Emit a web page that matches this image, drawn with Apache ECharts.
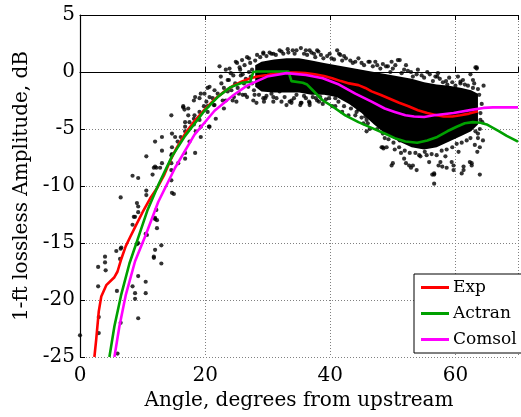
<!DOCTYPE html>
<html><head><meta charset="utf-8">
<script src="https://cdn.jsdelivr.net/npm/echarts@6/dist/echarts.min.js"></script>
<style>html,body{margin:0;padding:0;background:#fff}#c{width:521px;height:417px}</style>
</head><body><div id="c"></div>
<script>
// ---- data ----
const seriesNames = ['Exp', 'Actran', 'Comsol'];
const seriesColors = ['#ff0000', '#00a000', '#ff00ff'];

const expLine = [[2.3,-25],[2.6,-23.4],[3.0,-21.0],[3.4,-19.7],[4.2,-18.7],[5.5,-18.0],[6.0,-17.5],[6.6,-16.4],[7.3,-15.3],[8.0,-14.5],[8.9,-13.5],[10.0,-12.3],[11.2,-11.1],[12.3,-10.2],[13.4,-9.1],[14.4,-7.8],[15.4,-6.7],[16.8,-5.4],[18.3,-4.3],[19.9,-3.3],[21.5,-2.4],[23.1,-1.7],[24.5,-1.2],[25.8,-0.85],[27.0,-0.6],[28.3,-0.4],[29.9,-0.26],[31.5,-0.1],[33,-0.05],[34.5,-0.05],[36,-0.1],[37.5,-0.2],[39,-0.35],[40.3,-0.55],[41.7,-0.8],[43,-1.0],[44.5,-1.15],[45.6,-1.4],[46.6,-1.7],[48,-2.0],[49.5,-2.35],[51,-2.7],[52.5,-3.0],[54,-3.35],[55.5,-3.6],[57,-3.8],[58.1,-3.9],[59.5,-3.9],[60.8,-3.8],[62.2,-3.65],[63.6,-3.45]];

const actranLine = [[4.7,-25],[5.5,-22.3],[6.6,-19.5],[7.9,-16.8],[9.2,-14.7],[10.8,-12.1],[12.6,-9.8],[14.7,-7.4],[16.8,-5.6],[19.9,-3.4],[22,-2.2],[24,-1.35],[25.9,-0.95],[27.2,-0.85],[27.7,0.0],[28.3,0.05],[33.3,0.05],[33.8,-0.8],[35.6,-0.95],[36.3,-1.1],[37.2,-1.6],[38.8,-2.5],[40.3,-3.0],[42.4,-3.8],[44.5,-4.4],[46.6,-4.9],[48.7,-5.4],[50.3,-5.8],[52,-6.1],[53.9,-6.2],[55.5,-6.0],[57.1,-5.7],[58.7,-5.2],[60.2,-4.8],[61.5,-4.5],[62.8,-4.4],[64,-4.45],[65,-4.6],[66,-4.9],[67,-5.2],[68.2,-5.6],[70,-6.1]];

const comsolLine = [[5.5,-25],[6.3,-22.3],[7.3,-19.6],[8.8,-16.6],[10.5,-14.3],[12.5,-11.4],[15.2,-8.4],[18.3,-5.5],[21.5,-3.4],[24.6,-2.0],[26.7,-1.2],[28.3,-0.8],[29.9,-0.4],[33,-0.1],[36.1,-0.26],[38.8,-0.55],[41.4,-1.1],[44,-1.9],[46.6,-2.6],[48.7,-3.2],[50.3,-3.5],[52,-3.8],[53.4,-3.9],[55,-3.95],[56.6,-3.8],[59.7,-3.6],[62.8,-3.3],[64.5,-3.15],[66,-3.1],[70,-3.1]];

// dense core of the measured cloud (upper / lower edges)
const coreAngle = [28,29,31,33,35,37,39,41,43,45,47,49,51,53,55,57,59,61,62.5,63.6];
const coreUpper = [0.6,0.9,1.1,1.2,1.2,1.0,0.8,0.6,0.4,0.2,0.0,-0.2,-0.4,-0.6,-0.9,-1.1,-1.2,-1.4,-1.6,-1.9];
const coreLower = [-1.3,-1.7,-1.8,-1.8,-1.8,-2.0,-2.0,-2.2,-2.8,-3.6,-4.6,-5.5,-6.1,-6.6,-6.8,-6.6,-6.1,-5.6,-5.2,-4.6];

// individual measured points outside the dense core
const expDots = [
[0,-23.1],[2.9,-17.1],[2.9,-18.8],[3.0,-22.9],[3.0,-21.5],[4.0,-16.2],[4.0,-16.7],[4.1,-17.4],[5.8,-15.7],[6.5,-15.5],[6.4,-16.4],[5.9,-19.2],[6.5,-22.0],[6.0,-24.7],[8.4,-13.4],[8.8,-12.7],[8.4,-18.8],[8.8,-19.4],[8.8,-19.9],[9.3,-21.6],[9.3,-17.9],[9.1,-15.1],[9.1,-11.5],[10.5,-14.2],[10.5,-18.4],[10.5,-19.4],[11.8,-16.2],[12.0,-15.6],[12.2,-12.1],[12.3,-13.7],[13.0,-15.2],[13.0,-16.8],[12.0,-12.9],
[10.6,-7.4],[8.4,-9.1],[9.3,-9.3],[6.5,-11.0],[11.6,-9.0],[12.2,-8.4],[10.6,-10.4],[10.6,-10.8],[9.3,-11.8],[9.3,-12.3],[8.6,-12.7],[10.7,-14.3],[9.3,-15.0],[6.6,-15.4],[11.8,-16.3],
[14.6,-7.3],[14.6,-8.0],[14.6,-8.6],[12.8,-8.4],[14.6,-9.5],[14.7,-10.6],[15.0,-10.7],[12.3,-13.0],[12.0,-12.8],
[11.8,-8.4],[12.0,-6.1],[13.1,-5.7],[13.1,-6.9],[13.1,-8.0],[14.7,-5.4],[14.7,-6.6],[14.7,-7.2],[14.6,-3.8],[15.2,-5.7],[15.6,-6.1],[15.7,-8.0],[16.1,-5.7],[16.5,-3.0],[16.8,-7.1],[16.8,-7.6],[16.8,-4.4],[16.8,-4.8],[16.8,-5.2],[17.5,-4.4],[17.5,-6.1],[17.3,-3.8],[18.2,-4.1],[18.2,-4.6],[18.4,-7.1],[18.2,-2.5],[18.4,-2.2],[19.1,-3.5],[19.1,-4.2],[19.3,-4.8],[19.3,-5.7],[19.9,-1.9],[20.2,-2.6],[20.4,-3.0],[20.6,-4.8],[20.4,-1.4],[21.4,-2.9],[21.7,-4.1],[21.5,-1.6],[22.3,0.5],[22.5,-0.4],[22.6,-1.0],[22.8,-2.5],[23.0,-1.4],[22.0,-1.9],[20.7,-2.2],[18.5,-5.2],[16.7,-3.3],
[12.0,-8.3],[16.5,-3.1],[17.3,-3.2],[19.3,-1.9],[19.1,-2.3],[20.7,-1.3],[21.2,-2.3],[20.7,-4.8],[23.3,0.2],[24.1,-0.1],[23.8,-0.7],[23.6,-1.7],[24.4,-2.5],[25.1,0.8],[25.6,0.2],[25.7,-0.3],[26.0,-2.0],[26.2,-1.0],[27.0,1.2],[27.2,0.8],[27.5,0.2],[27.8,-1.6],[26.7,-2.2],[21.5,-2.9],[19.8,-3.0],[20.4,-3.5],[18.3,-3.8],
[24.9,0.9],[25.9,1.05],[26.7,1.3],[28.3,1.5],[29.3,1.6],[30.6,1.6],[31.9,1.9],[33.3,1.7],[34.6,1.9],[36.1,1.9],[37.4,1.6],[23.6,-0.7],[23.3,-2.5],[23.0,-3.2],[24.6,-2.2],[25.4,-1.9],[26.4,-2.0],[27.7,-2.5],[29.6,-2.3],[29.4,-2.6],[32.2,-2.6],[33.0,-2.9],[33.8,-2.5],[34.6,-2.0],[35.4,-2.7],[36.1,-2.3],[31.9,-1.7],[30.6,-1.9],[37.4,-1.7],[36.7,-2.9],
[24.5,-0.3],[24.8,-1.0],[25.2,-1.4],[25.5,0.4],[26.0,-0.2],[26.3,0.6],[26.5,-0.6],[26.9,-1.3],[27.0,0.0],[27.3,-0.4],[27.5,-1.0],[23.9,0.3],[24.2,-1.6],[25.0,-2.6],[27.9,-2.0],[28.2,-2.7],
[29.3,-2.3],[30.9,-2.6],[33.5,-2.6],[36.6,-2.6],[35.2,-2.9],
[29.3,1.7],[30.9,1.6],[32.2,1.8],[34.0,1.9],[35.3,2.1],[36.7,1.9],[37.9,1.9],[41.1,1.9],[41.4,1.6],[44.0,0.9],[46.3,0.9],[50.8,1.05],[49.2,0.5],[52.9,0.0],[56.8,-0.4],[55.5,0.0],[60.8,-0.85],[62.8,-0.7],[63.2,0.4],
[41.6,1.5],[46.1,0.9],[49.8,0.9],[51.1,1.05],[52.1,0.6],
[38.5,1.5],[39.5,1.4],[40.2,1.2],[42.5,1.2],[43.2,1.0],[45.0,0.8],[47.5,0.6],[48.4,0.7],[50.0,0.3],[51.8,0.2],[53.8,-0.2],[54.6,-0.3],[57.5,-0.6],[58.5,-0.8],[59.5,-0.9],[61.5,-1.1],
[63.4,0.3],[57.1,-0.4],[60.8,-1.0],[62.8,-1.4],[61.3,-1.7],[58.7,-1.1],[57.9,-1.7],
[30.9,-2.2],[33.8,-2.7],[35.3,-2.7],[36.7,-2.7],[37.9,-2.5],[40.8,-3.0],[45.8,-5.2],[48.4,-6.6],[49.8,-8.2],[52.1,-8.0],[52.9,-8.4],[56.6,-9.0],[56.6,-9.8],[57.3,-8.2],[58.6,-8.4],[59.7,-8.2],[61.3,-8.6],[62.6,-8.0],[63.9,-9.0],[63.9,-6.6],[63.6,-5.4],[63.1,-3.8],[45.8,-4.2],
[40.8,-2.3],[40.3,-3.0],[41.9,-3.5],[42.9,-3.8],[44.0,-3.8],[44.5,-3.3],[45.6,-3.9],[48.2,-4.4],[45.3,-4.5],[46.3,-5.0],[48.7,-5.8],[49.0,-6.6],[48.5,-6.7],[50.3,-6.8],[50.0,-8.0],[51.3,-7.1],[51.8,-7.6],[52.6,-8.2],[51.1,-6.0],[50.0,-5.4],[37.7,-2.3],[38.2,-2.6],[38.8,-2.8],[39.3,-2.4],
[54.2,-7.3],[53.2,-8.2],[53.8,-8.6],[56.6,-8.9],[57.6,-7.9],[57.9,-8.3],[58.4,-7.4],[59.4,-7.9],[59.7,-8.6],[61.3,-8.3],[61.0,-8.9],[62.3,-7.9],[62.6,-8.2],[63.1,-6.4],[63.6,-5.8],[60.5,-7.0],[55.8,-7.9],[55.1,-7.0],
[56.3,-9.0],[48.2,-6.6],[63.4,0.4],
[63.8,-2.0],[64.2,-2.8],[64.0,-3.6],[64.3,-4.4],[63.9,-5.0],[64.4,-6.0],[63.5,-7.0],[64.5,-1.2],
[28,1.0],[28.8,1.3],[29.8,1.4],[30.3,1.7],[31.3,1.5],[32.5,1.6],[33.2,2.0],[34.3,1.6],[35.8,1.6],[36.3,1.5],[37.0,1.7],[37.6,1.3],[38.1,1.8],[38.9,1.2],[39.9,1.6],[40.6,1.1],[41.9,1.0],[42.2,1.4],[43.6,0.8],[44.5,1.2],[45.4,0.6],[46.8,0.5],[47.2,0.9],[48.0,0.3],[48.9,0.5],[49.6,0.0],[50.4,0.6],[51.4,-0.1],[52.4,0.1],[53.2,-0.4],[54.0,0.2],[55.0,-0.5],[55.9,-0.2],[56.4,-0.8],[57.2,-0.1],[58.0,-0.9],[59.0,-0.5],[60.0,-1.2],[60.4,-0.4],[61.2,-0.7],[62.0,-1.2],[62.4,-0.2],[63.0,-1.0],[63.6,-1.5],
[28.6,-2.0],[29.8,-2.1],[31.4,-2.3],[32.7,-2.2],[34.2,-2.3],[35.8,-2.1],[37.2,-2.2],[38.4,-2.2],[39.8,-2.3],[41.3,-2.6],[42.2,-3.0],[43.3,-3.2],[44.2,-3.5],[45.0,-4.0],[46.0,-4.5],[46.8,-4.1],[47.5,-5.0],[48.4,-5.4],[49.3,-5.9],[50.1,-6.2],[51.0,-6.6],[51.9,-6.9],[52.7,-7.1],[53.6,-7.1],[54.4,-7.4],[55.4,-7.3],[56.2,-7.2],[57.0,-7.3],[57.8,-6.9],[58.6,-6.8],[59.5,-6.6],[60.2,-6.3],[61.0,-6.2],[61.8,-6.0],[62.4,-5.8],[63.2,-5.2],[64.0,-4.2]
];

const xTickValues = [0, 20, 40, 60];
const yTickValues = [-25, -20, -15, -10, -5, 0, 5];
const xTitle = 'Angle, degrees from upstream';
const yTitle = '1-ft lossless Amplitude, dB';

// ---- chart ----
const FONT = 'DejaVu Serif';
const chart = echarts.init(document.getElementById('c'), null, {renderer: 'canvas'});
const gridLine = {show: true, lineStyle: {color: '#808080', width: 1, type: [1, 2]}};
const lineSeries = [expLine, actranLine, comsolLine].map((d, i) => ({
  name: seriesNames[i], type: 'line', data: d, showSymbol: false, symbol: 'none',
  smooth: false, z: 5 + i, lineStyle: {color: seriesColors[i], width: 2.6, join: 'round'}, itemStyle: {color: seriesColors[i]},
  animation: false
}));

chart.setOption({
  animation: false,
  backgroundColor: '#fff',
  grid: {left: 80, top: 15, width: 446, height: 342, containLabel: false},
  xAxis: [{
    type: 'value', min: 0, max: 70, interval: 20,
    name: xTitle, nameLocation: 'middle', nameGap: 31,
    nameTextStyle: {fontFamily: FONT, fontSize: 20, color: '#000'},
    axisLine: {show: true, lineStyle: {color: '#000', width: 1.2}},
    axisTick: {show: true, inside: true, length: 5, lineStyle: {color: '#000'}},
    axisLabel: {fontFamily: FONT, fontSize: 20, color: '#000', margin: 9,
      formatter: v => xTickValues.includes(v) ? String(v) : ''},
    splitLine: gridLine
  }, {
    type: 'value', min: 0, max: 70, interval: 20, position: 'top',
    axisLine: {show: true, lineStyle: {color: '#000', width: 1.2}},
    axisTick: {show: true, inside: true, length: 5, lineStyle: {color: '#000'}},
    axisLabel: {show: false}, splitLine: {show: false}
  }],
  yAxis: {
    type: 'value', min: -25, max: 5, interval: 5,
    name: yTitle, nameLocation: 'middle', nameGap: 43, nameRotate: 90,
    nameTextStyle: {fontFamily: FONT, fontSize: 20, color: '#000'},
    axisLine: {show: true, lineStyle: {color: '#000', width: 1.2}},
    axisTick: {show: true, inside: true, length: 5, lineStyle: {color: '#000'}},
    axisLabel: {fontFamily: FONT, fontSize: 20, color: '#000', margin: 5,
      formatter: v => yTickValues.includes(v) ? String(v) : ''},
    splitLine: gridLine
  },
  legend: {
    data: seriesNames, orient: 'vertical', left: 414, top: 274,
    backgroundColor: '#fff', borderColor: '#000', borderWidth: 1,
    padding: [5, 6, 5, 7], itemGap: 9, itemWidth: 28, itemHeight: 3, icon: 'rect',
    textStyle: {fontFamily: FONT, fontSize: 17, color: '#000', padding: [0, 0, 0, -1]}
  },
  series: [
    {
      type: 'custom', name: 'core', coordinateSystem: 'cartesian2d', z: 2, silent: true,
      data: coreAngle.map((x, i) => [x, coreUpper[i], coreLower[i]]),
      encode: {x: 0, y: [1, 2]},
      renderItem: (params, api) => {
        if (params.dataIndex !== 0) return null;
        const pts = [];
        for (let i = 0; i < coreAngle.length; i++) pts.push(api.coord([coreAngle[i], coreUpper[i]]));
        for (let i = coreAngle.length - 1; i >= 0; i--) pts.push(api.coord([coreAngle[i], coreLower[i]]));
        return {type: 'polygon', shape: {points: pts}, style: {fill: '#000'}};
      }
    },
    {
      type: 'scatter', name: 'dots', data: expDots, symbol: 'circle', symbolSize: 4.2, z: 3,
      itemStyle: {color: '#000'}, silent: true
    }
  ].concat(lineSeries)
});
</script>
</body></html>
